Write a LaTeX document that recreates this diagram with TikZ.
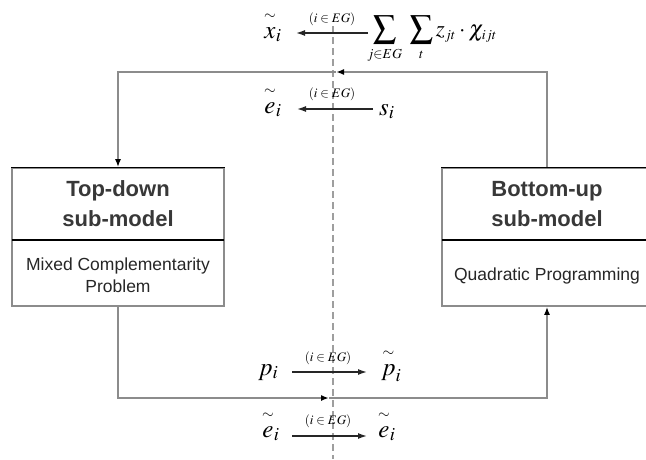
\documentclass[tikz,border=0pt]{standalone}
\usepackage{mathptmx}
\usepackage{amsmath}
\usepackage[no-math]{fontspec}
\setmainfont{Liberation Sans}
\usetikzlibrary{arrows.meta}
\definecolor{conngray}{gray}{0.55}
\definecolor{dashgray}{gray}{0.62}
\newcommand{\mytil}[1]{\overset{\raisebox{3pt}{$\scriptscriptstyle\sim$}}{#1}}
\begin{document}
\begin{tikzpicture}[x=1pt,y=-1pt,
  conn/.style={draw=conngray,line width=1.8pt},
  endtip/.style={-{Latex[length=8pt,width=6pt,color=black]}},
  lab/.style={draw=black!85,line width=1.4pt,-{Latex[length=9pt,width=6pt]}},
  mathlbl/.style={inner sep=0pt,anchor=base west,font=\fontsize{25}{29}\selectfont},
  cond/.style={inner sep=0pt,font=\fontsize{13}{15}\selectfont},
  boxsty/.style={draw=conngray,line width=1.6pt,minimum width=212pt,minimum height=138pt,inner sep=0pt},
  ttl/.style={inner sep=0pt,anchor=base,font=\fontsize{22}{26}\selectfont\bfseries,text=black!78},
  txt/.style={inner sep=0pt,anchor=base,font=\fontsize{17.5}{21}\selectfont,text=black!85},
  sep/.style={draw=black,line width=1.3pt},
  dashline/.style={draw=dashgray,line width=1.5pt,dash pattern=on 7pt off 4pt}
]
\useasboundingbox (0,0) rectangle (646,459);

% vertical dashed line
\draw[dashline] (333,26) -- (333,459);

% boxes
\node[boxsty] (td) at (118,237) {};
\node[boxsty,minimum width=210pt] (bu) at (547,237) {};
\draw[sep] (td.north west) -- (td.north east);
\draw[sep] (bu.north west) -- (bu.north east);
\coordinate (tdl) at (12,240); \coordinate (tdr) at (224,240);
\coordinate (bul) at (442,240); \coordinate (bur) at (652,240);
\draw[sep] (tdl) -- (tdr);
\draw[sep] (bul) -- (bur);

% box texts
\node[ttl] (td1) at (118,196) {Top-down};
\node[ttl] (td2) at (118,226) {sub-model};
\node[txt] (td3) at (118,270) {Mixed Complementarity};
\node[txt] (td4) at (118,292) {Problem};
\node[ttl] (bu1) at (547,196) {Bottom-up};
\node[ttl] (bu2) at (547,226) {sub-model};
\node[txt] (bu3) at (547,280) {Quadratic Programming};

% feedback connectors
\coordinate (tarrow) at (336,72);
\coordinate (barrow) at (329,398);
\draw[conn,endtip] (bu.north) |- (tarrow);
\draw[conn,endtip] (tarrow) -| (td.north);
\draw[conn,endtip] (td.south) |- (barrow);
\draw[conn,endtip] (barrow) -| (bu.south);

% top labels
\node[mathlbl] (xt) at (264,38) {$\mytil{x}_i$};
\node[cond] (c1) at (332,19) {$(i\in EG)$};
\node[mathlbl,font=\fontsize{23}{27}\selectfont] (sumexpr) at (367,36) {$\displaystyle\sum_{\scriptscriptstyle j\in EG}\;\sum_{\scriptscriptstyle t} z_{\scriptscriptstyle jt}\cdot\chi_{\scriptscriptstyle ijt}$};
\coordinate (a1s) at (368,33); \coordinate (a1e) at (296,33);
\draw[lab] (a1s) -- (a1e);

\node[mathlbl] (et) at (264,113) {$\mytil{e}_i$};
\node[cond] (c2) at (332,94) {$(i\in EG)$};
\node[mathlbl] (si) at (379,115) {$s_i$};
\coordinate (a2s) at (373,109); \coordinate (a2e) at (297,109);
\draw[lab] (a2s) -- (a2e);

% bottom labels
\node[mathlbl] (pi) at (258,375) {$p_i$};
\node[cond] (c3) at (328,358) {$(i\in EG)$};
\node[mathlbl] (pt) at (381,375) {$\mytil{p}_i$};
\coordinate (a3s) at (292,372); \coordinate (a3e) at (367,372);
\draw[lab] (a3s) -- (a3e);

\node[mathlbl] (e2) at (262,437) {$\mytil{e}_i$};
\node[cond] (c4) at (328,421) {$(i\in EG)$};
\node[mathlbl] (e3) at (378,437) {$\mytil{e}_i$};
\coordinate (a4s) at (292,436); \coordinate (a4e) at (367,436);
\draw[lab] (a4s) -- (a4e);
\end{tikzpicture}
\end{document}
